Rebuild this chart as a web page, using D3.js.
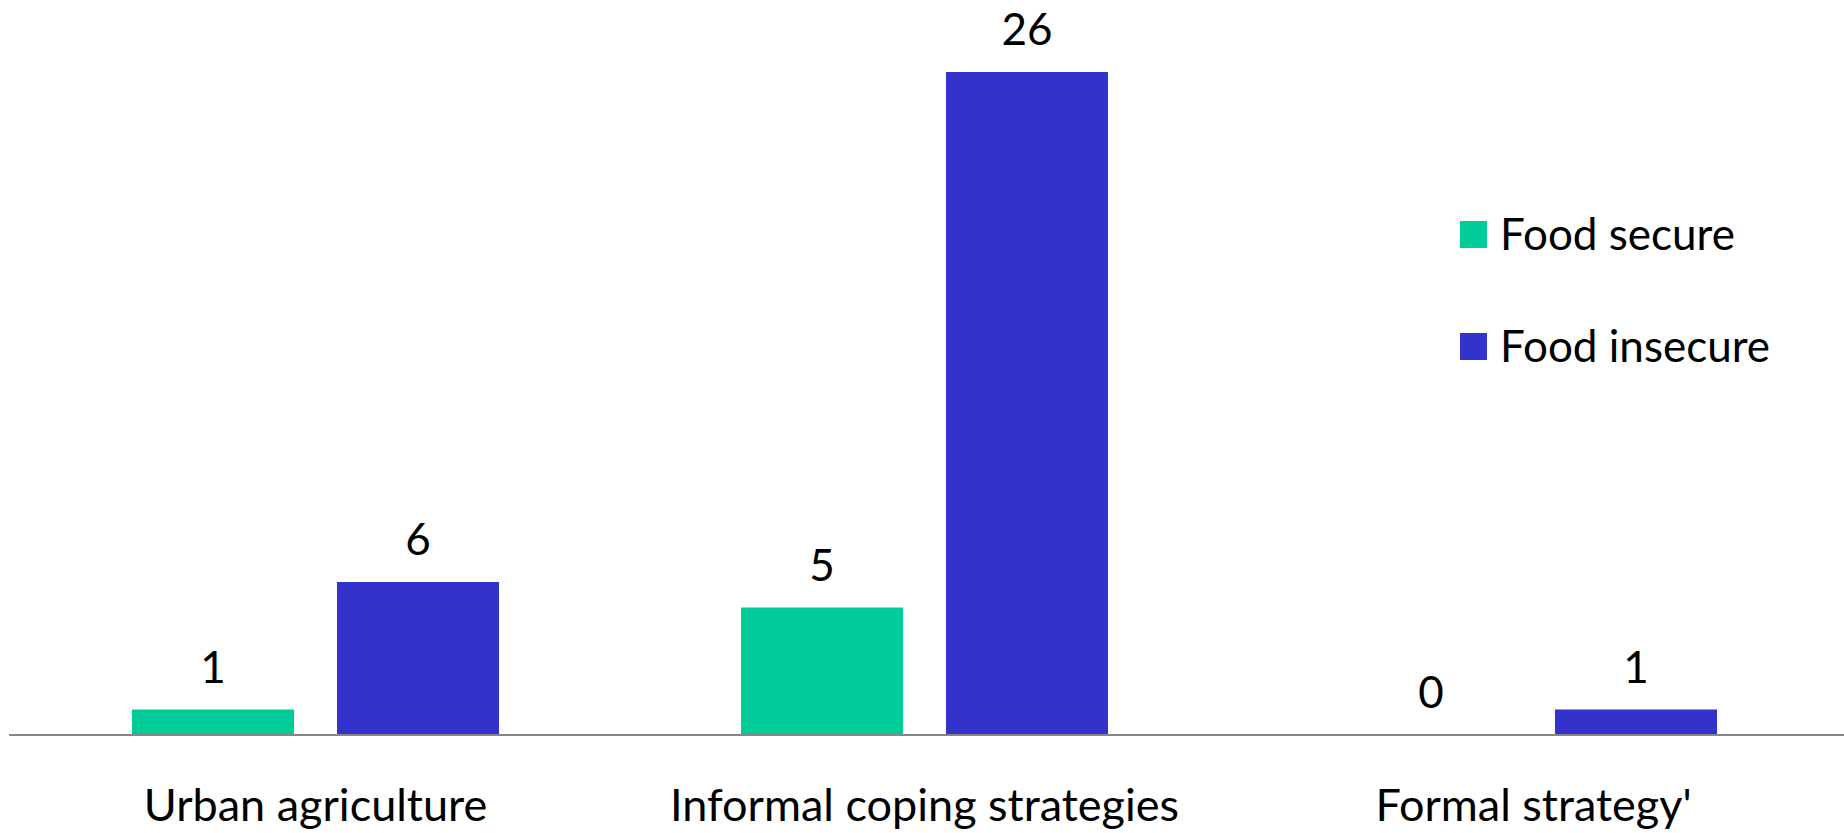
<!DOCTYPE html>
<html>
<head>
<meta charset="utf-8">
<script src="https://cdn.jsdelivr.net/npm/d3@7"></script>
<style>
  html, body { margin: 0; padding: 0; background: #fff; }
  svg { display: block; font-family: Lato, "Open Sans", sans-serif; }
</style>
</head>
<body>
<svg id="chart" width="1844" height="833"></svg>
<script>
// Coping strategies by household food security status
const categories = ["Urban agriculture", "Informal coping strategies", "Formal strategy'"];
const seriesNames = ["Food secure", "Food insecure"];
const foodSecure = [1, 5, 0];
const foodInsecure = [6, 26, 1];
const seriesColors = ["#00CC99", "#3333CC"];

const seriesValues = [foodSecure, foodInsecure];
const rows = categories.map((c, i) => ({
  category: c,
  values: seriesNames.map((s, j) => ({ series: s, value: seriesValues[j][i], color: seriesColors[j] }))
}));

const svg = d3.select("#chart");
const baseY = 735;

const x0 = d3.scaleBand().domain(categories).range([11, 1838]).padding(0);
const x1 = d3.scaleBand().domain(seriesNames).range([0, x0.bandwidth()])
  .paddingInner(0.21).paddingOuter(0.59);
const y = d3.scaleLinear().domain([0, 26]).range([baseY, 72]);

const groups = svg.append("g").selectAll("g").data(rows).join("g")
  .attr("transform", d => `translate(${x0(d.category)},0)`);

groups.selectAll("rect").data(d => d.values).join("rect")
  .attr("x", d => x1(d.series))
  .attr("y", d => y(d.value))
  .attr("width", x1.bandwidth())
  .attr("height", d => baseY - y(d.value))
  .attr("fill", d => d.color);

groups.selectAll("text.val").data(d => d.values).join("text")
  .attr("class", "val")
  .attr("x", d => x1(d.series) + x1.bandwidth() / 2)
  .attr("y", d => y(d.value) - 27)
  .attr("text-anchor", "middle")
  .attr("font-size", 44)
  .attr("fill", "#000")
  .text(d => d.value);

// category axis: labels under each group, baseline runs to the right edge
const xAxis = d3.axisBottom(x0).tickSize(0).tickPadding(0);
const axisG = svg.append("g").attr("transform", `translate(0,${baseY})`).call(xAxis);
axisG.select(".domain").remove();
axisG.append("line")
  .attr("x1", 9).attr("x2", 1844)
  .attr("y1", 0).attr("y2", 0)
  .attr("stroke", "#868686").attr("stroke-width", 2);
axisG.selectAll(".tick text")
  .attr("font-size", 45)
  .attr("font-family", "Lato, 'Open Sans', sans-serif")
  .attr("fill", "#000")
  .attr("dy", null)
  .attr("y", 86);

// legend
const legend = svg.append("g").selectAll("g").data(seriesNames).join("g")
  .attr("transform", (d, i) => `translate(1460,${221 + i * 112})`);
legend.append("rect")
  .attr("width", 27).attr("height", 27)
  .attr("fill", (d, i) => seriesColors[i]);
legend.append("text")
  .attr("x", 40).attr("y", 29)
  .attr("font-size", 44)
  .attr("fill", "#000")
  .text(d => d);
</script>
</body>
</html>
